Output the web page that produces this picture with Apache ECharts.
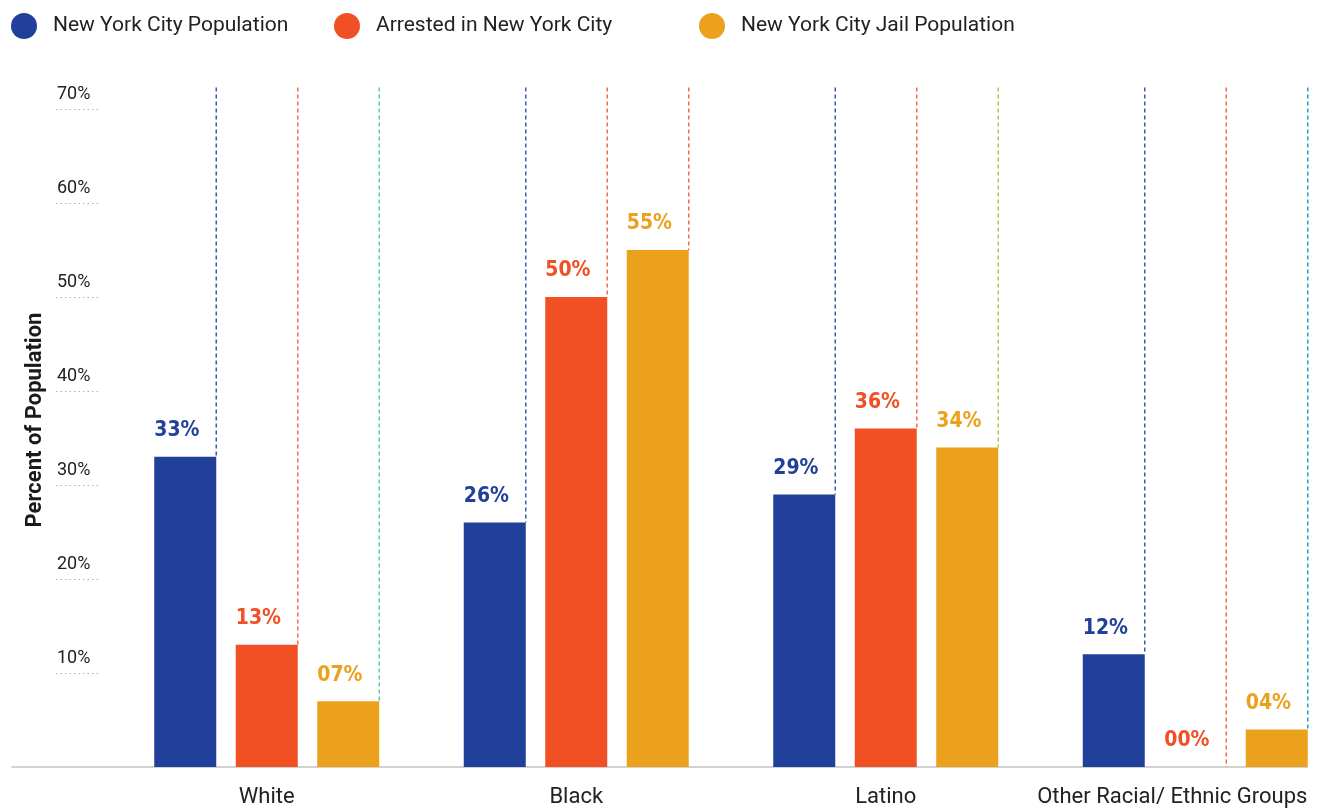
<!DOCTYPE html>
<html>
<head>
<meta charset="utf-8">
<script src="https://cdn.jsdelivr.net/npm/echarts@6/dist/echarts.min.js"></script>
<style>
  html, body { margin: 0; padding: 0; background: #ffffff; }
  #chart { width: 1321px; height: 808px; }
</style>
</head>
<body>
<div id="chart"></div>
<script>
// ---- data ----
const categories = ['White', 'Black', 'Latino', 'Other Racial/ Ethnic Groups'];
const seriesNames = ['New York City Population', 'Arrested in New York City', 'New York City Jail Population'];
const nycPopulation = [33, 26, 29, 12];
const arrestedNYC = [13, 50, 36, 0];
const jailPopulation = [7, 55, 34, 4];
const yTickValues = [10, 20, 30, 40, 50, 60, 70];

// ---- styles ----
const barColors = ['#21409a', '#f05024', '#eca11c'];
const dashColors = [
  ['#3d58b0', '#3d58b0', '#3d58b0', '#3d58b0'],
  ['#f26b4b', '#f26b4b', '#f26b4b', '#f26b4b'],
  ['#5ec9ae', '#f26b4b', '#a5c955', '#1f9fd0']
];
const BAR_W = 62;
const GAP_PX = 19.5;
const TOTAL_W = 3 * BAR_W + 2 * GAP_PX;
const EDGE_OFFSETS = [0, 1, 2].map(k => -TOTAL_W / 2 + k * (BAR_W + GAP_PX) + BAR_W);
const LINE_TOP = 72.3;
const sansFont = 'Roboto, "Liberation Sans", sans-serif';
const narrowFont = '"DejaVu Sans Condensed", Roboto, sans-serif';

const allValues = [nycPopulation, arrestedNYC, jailPopulation];

const barSeries = allValues.map((vals, k) => ({
  name: seriesNames[k],
  type: 'bar',
  xAxisIndex: 0,
  yAxisIndex: 0,
  barWidth: BAR_W,
  barGap: (GAP_PX / BAR_W * 100).toFixed(2) + '%',
  itemStyle: { color: barColors[k] },
  z: 3,
  label: {
    show: true,
    position: [0, -26],
    align: 'left',
    verticalAlign: 'middle',
    fontFamily: narrowFont,
    fontWeight: 'bold',
    fontSize: 21,
    color: barColors[k],
    formatter: p => String(p.value).padStart(2, '0') + '%'
  },
  data: vals
}));

const dashSeries = allValues.map((vals, k) => ({
  type: 'custom',
  xAxisIndex: 0,
  yAxisIndex: 0,
  clip: false,
  silent: true,
  z: 2,
  data: vals.map((v, i) => [i, v]),
  renderItem: (params, api) => {
    const base = api.coord([api.value(0), api.value(1)]);
    const top = api.coord([api.value(0), LINE_TOP]);
    const x = base[0] + EDGE_OFFSETS[k];
    return {
      type: 'line',
      shape: { x1: x, y1: top[1], x2: x, y2: base[1] },
      style: { stroke: dashColors[k][params.dataIndex], lineWidth: 1.5, lineDash: [4, 3] }
    };
  }
}));

const legendLefts = [11, 334, 699];

const option = {
  backgroundColor: '#ffffff',
  animation: false,
  legend: seriesNames.map((n, k) => ({
    data: [n],
    left: legendLefts[k],
    top: 13,
    padding: 0,
    icon: 'circle',
    itemWidth: 26,
    itemHeight: 26,
    selectedMode: false,
    textStyle: { fontFamily: sansFont, fontSize: 21, color: '#222222', padding: [0, 0, 0, 11] }
  })),
  grid: [
    { left: 112, width: 1238, top: 109, bottom: 41, outerBoundsMode: 'none' },
    { left: 12, right: 14, top: 109, bottom: 41, outerBoundsMode: 'none' }
  ],
  xAxis: [
    {
      type: 'category',
      gridIndex: 0,
      data: categories.map((c, i) => i === categories.length - 1
        ? { value: c, textStyle: { padding: [0, 46, 0, 0] } }
        : c),
      axisLine: { show: false },
      axisTick: { show: false },
      axisLabel: { interval: 0, fontFamily: sansFont, fontSize: 22, color: '#222222', margin: 19 }
    },
    {
      type: 'value',
      gridIndex: 1,
      min: 0, max: 1,
      axisLine: { show: true, lineStyle: { color: '#d2d2d2', width: 2 } },
      axisTick: { show: false },
      axisLabel: { show: false },
      splitLine: { show: false }
    }
  ],
  yAxis: [
    {
      type: 'value',
      gridIndex: 0,
      min: 0,
      max: 70,
      interval: 10,
      offset: 14,
      name: 'Percent of Population',
      nameLocation: 'middle',
      nameGap: 48,
      nameTextStyle: { fontFamily: sansFont, fontWeight: 'bold', fontSize: 22, color: '#1a1a1a', padding: [0, 0, 0, 36] },
      axisLine: { show: false },
      splitLine: { show: false },
      axisTick: {
        show: true,
        length: 42,
        customValues: yTickValues,
        lineStyle: { color: '#a8b3dc', type: [1.5, 3], width: 1 }
      },
      axisLabel: {
        customValues: yTickValues,
        align: 'left',
        margin: 41,
        verticalAlign: 'bottom',
        padding: [0, 0, 6, 0],
        fontFamily: sansFont,
        fontSize: 18,
        color: '#222222',
        formatter: v => v + '%'
      }
    },
    { type: 'value', gridIndex: 1, show: false, min: 0, max: 1 }
  ],
  series: [...dashSeries, ...barSeries]
};

const chart = echarts.init(document.getElementById('chart'), null, { renderer: 'canvas' });
chart.setOption(option);
</script>
</body>
</html>
